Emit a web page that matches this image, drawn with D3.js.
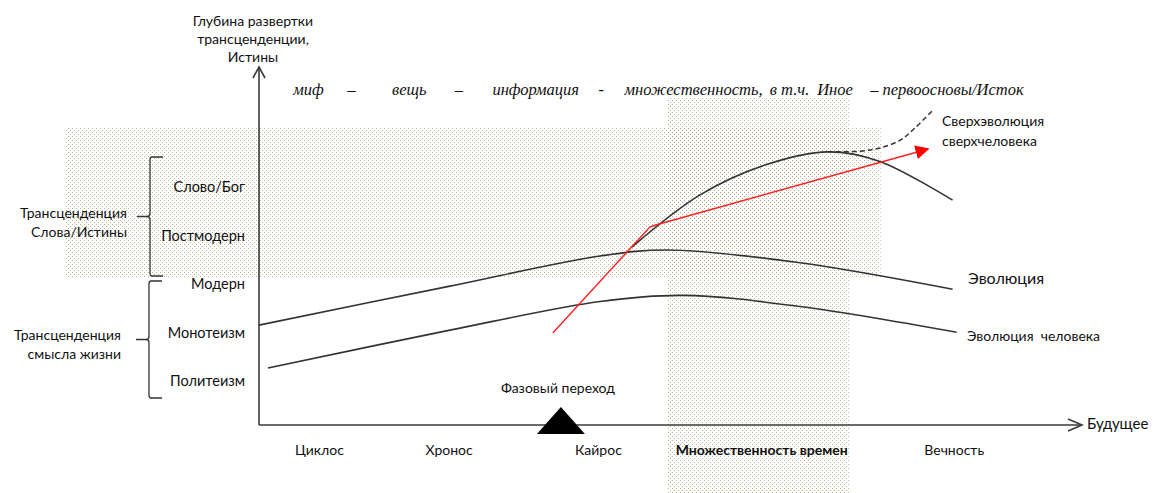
<!DOCTYPE html>
<html><head><meta charset="utf-8">
<script src="https://cdn.jsdelivr.net/npm/d3@7"></script>
<style>
html,body{margin:0;padding:0;background:#fff;}
svg{display:block;}
text{font-family:Lato,"Open Sans",sans-serif;fill:#111;}
.hdr{font-family:"Liberation Serif","Times New Roman",serif;font-style:italic;font-size:16.5px;}
</style></head>
<body>
<script>
// ---- data (abstract units: x = time 0..100, y = depth 0..100) ----
const evolutionX = [0, 23.4, 41.8, 50.0, 66.3, 85.0];
const evolutionY = [27.9, 38.8, 47.2, 48.9, 45.3, 37.9];
const humanX = [1.1, 23.4, 41.8, 52.0, 66.3, 85.5];
const humanY = [15.9, 26.5, 34.5, 36.2, 33.1, 25.9];
const superX = [45.7, 54.0, 62.0, 69.7, 76.0, 85.0];
const superY = [49.7, 64.2, 72.6, 76.3, 73.7, 62.8];
const dashX = [69.7, 73.7, 76.1, 78.6, 80.4, 82.6];
const dashY = [76.3, 76.5, 77.4, 79.6, 83.0, 88.0];
const redX = [36.0, 47.9, 48.5, 82.0];
const redY = [25.7, 55.3, 55.8, 77.1];
const levels = ["Слово/Бог", "Постмодерн", "Модерн", "Монотеизм", "Политеизм"];
const levelY = [66.5, 52.8, 39.4, 25.8, 12.3];
const eras = ["Циклос", "Хронос", "Кайрос", "Множественность времен", "Вечность"];
const eraX = [7.4, 23.3, 41.6, 61.6, 85.2];
const phaseX = 37.0;
const bandH = {x0: -23.8, x1: 76.2, y0: 41.3, y1: 83.0};
const bandV = {x0: 50.1, x1: 72.4, y0: -19.5, y1: 91.3};
const headerWords = ["миф", "–", "вещь", "–", "информация", "-", "множественность,", "в т.ч.", "Иное", "– первоосновы/Исток"];
const headerX = [4.2, 10.8, 16.3, 24.0, 28.6, 41.6, 44.8, 62.6, 68.4, 74.9];

// ---- layout ----
const W = 1153, H = 493;
const x = d3.scaleLinear().domain([0, 100]).range([259, 1075]);
const y = d3.scaleLinear().domain([0, 100]).range([425, 67]);

const svg = d3.select("body").append("svg").attr("width", W).attr("height", H);
const defs = svg.append("defs");
const pat = defs.append("pattern").attr("id", "dots").attr("patternUnits", "userSpaceOnUse")
  .attr("width", 4).attr("height", 4);
pat.append("rect").attr("x", 0).attr("y", 0).attr("width", 1).attr("height", 1).attr("fill", "#ada47a");
pat.append("rect").attr("x", 2).attr("y", 2).attr("width", 1).attr("height", 1).attr("fill", "#ada47a");
defs.append("marker").attr("id", "redArrow").attr("viewBox", "0 0 10 10").attr("refX", 9).attr("refY", 5)
  .attr("markerWidth", 14).attr("markerHeight", 14).attr("markerUnits", "userSpaceOnUse").attr("orient", "auto")
  .append("path").attr("d", "M0,0 L10,5 L0,10 z").attr("fill", "#ff0000");

// shaded bands
[bandH, bandV].forEach(b => {
  svg.append("rect").attr("x", x(b.x0)).attr("y", y(b.y1))
    .attr("width", x(b.x1) - x(b.x0)).attr("height", y(b.y0) - y(b.y1))
    .attr("fill", "url(#dots)").attr("opacity", 0.8);
});

// header
const hdr = svg.append("g");
headerWords.forEach((w, i) => {
  hdr.append("text").attr("class", "hdr").attr("x", x(headerX[i])).attr("y", 95).text(w);
});

// axes
const axisCol = "#3a3a3a";
svg.append("line").attr("x1", x(0)).attr("x2", x(0)).attr("y1", y(0)).attr("y2", 67)
  .attr("stroke", axisCol).attr("stroke-width", 1.6);
svg.append("path").attr("d", `M${x(0)-6},78 L${x(0)},67 L${x(0)+6},78`).attr("fill", "none")
  .attr("stroke", axisCol).attr("stroke-width", 1.6);
svg.append("line").attr("x1", x(0)).attr("x2", 1082).attr("y1", y(0)).attr("y2", y(0))
  .attr("stroke", axisCol).attr("stroke-width", 1.6);
svg.append("path").attr("d", `M1068,${y(0)-6} L1082,${y(0)} L1068,${y(0)+6}`).attr("fill", "none")
  .attr("stroke", axisCol).attr("stroke-width", 1.6);

// axis titles
const yt = svg.append("text").attr("x", 253).attr("text-anchor", "middle").style("font-size", "14px");
["Глубина развертки", "трансценденции,", "Истины"].forEach((t, i) => {
  yt.append("tspan").attr("x", 253).attr("y", 26 + i * 18).text(t);
});
svg.append("text").attr("x", 1087).attr("y", 429).style("font-size", "15px").text("Будущее");

// level labels (y "ticks")
svg.selectAll(".lvl").data(levels).enter().append("text").attr("class", "lvl")
  .attr("x", 245).attr("y", (d, i) => y(levelY[i]) + 5).attr("text-anchor", "end")
  .style("font-size", "14.5px").text(d => d);

// brackets
function brace(top, bot, xx) {
  const mid = (top + bot) / 2;
  return `M${xx+13},${top} L${xx+2},${top} Q${xx},${top} ${xx},${top+3} L${xx},${mid-3} Q${xx},${mid} ${xx-3},${mid} L${xx-13},${mid} M${xx-3},${mid} Q${xx},${mid} ${xx},${mid+3} L${xx},${bot-3} Q${xx},${bot} ${xx+2},${bot} L${xx+13},${bot}`;
}
svg.append("path").attr("d", brace(157, 276, 150)).attr("fill", "none").attr("stroke", "#333").attr("stroke-width", 1.3);
svg.append("path").attr("d", brace(281, 398, 149)).attr("fill", "none").attr("stroke", "#333").attr("stroke-width", 1.3);
const b1 = svg.append("text").attr("text-anchor", "end").style("font-size", "14px");
b1.append("tspan").attr("x", 127).attr("y", 218).text("Трансценденция");
b1.append("tspan").attr("x", 127).attr("y", 237).text("Слова/Истины");
const b2 = svg.append("text").attr("text-anchor", "end").style("font-size", "14px");
b2.append("tspan").attr("x", 121).attr("y", 340).text("Трансценденция");
b2.append("tspan").attr("x", 121).attr("y", 359).text("смысла жизни");

// era labels
svg.selectAll(".era").data(eras).enter().append("text").attr("class", "era")
  .attr("x", (d, i) => x(eraX[i])).attr("y", 455).attr("text-anchor", "middle")
  .style("font-size", "14px").style("font-weight", (d, i) => i === 3 ? "bold" : "normal")
  .text(d => d);

// curves
const zip = (a, b) => a.map((v, i) => [v, b[i]]);
const smooth = d3.line().x(d => x(d[0])).y(d => y(d[1])).curve(d3.curveCatmullRom.alpha(0.5));
svg.append("path").attr("d", smooth(zip(evolutionX, evolutionY))).attr("fill", "none").attr("stroke", "#333").attr("stroke-width", 1.6);
svg.append("path").attr("d", smooth(zip(humanX, humanY))).attr("fill", "none").attr("stroke", "#333").attr("stroke-width", 1.6);
svg.append("path").attr("d", smooth(zip(superX, superY))).attr("fill", "none").attr("stroke", "#333").attr("stroke-width", 1.6);
svg.append("path").attr("d", smooth(zip(dashX, dashY)))
  .attr("fill", "none").attr("stroke", "#333").attr("stroke-width", 1.5).attr("stroke-dasharray", "5,3");
svg.append("path").attr("d", d3.line().x(d => x(d[0])).y(d => y(d[1]))(zip(redX, redY)))
  .attr("fill", "none").attr("stroke", "#ff2020").attr("stroke-width", 1.4).attr("marker-end", "url(#redArrow)");

// phase transition
const px = x(phaseX);
svg.append("path").attr("d", `M${px},407 L${px+24},434 L${px-24},434 Z`).attr("fill", "#000");
svg.append("text").attr("x", px - 3).attr("y", 393).attr("text-anchor", "middle").style("font-size", "14px").text("Фазовый переход");

// series labels
const s1 = svg.append("text").style("font-size", "14px");
s1.append("tspan").attr("x", 942).attr("y", 126).text("Сверхэволюция");
s1.append("tspan").attr("x", 942).attr("y", 146).text("сверхчеловека");
svg.append("text").attr("x", 968).attr("y", 284).style("font-size", "16px").text("Эволюция");
svg.append("text").attr("x", 967).attr("y", 341).style("font-size", "14px").attr("xml:space", "preserve").text("Эволюция  человека");
</script>
</body></html>
